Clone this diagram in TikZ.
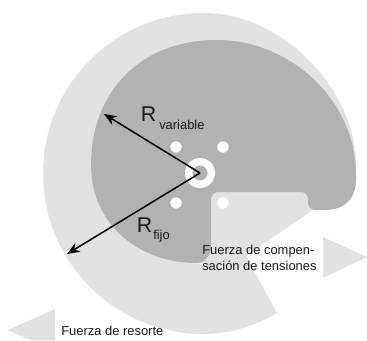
\documentclass[tikz,border=0pt]{standalone}
\usepackage{fontspec}
\setmainfont{Liberation Sans}
\usetikzlibrary{arrows.meta}
\definecolor{lightg}{HTML}{E1E2E3}
\definecolor{darkg}{HTML}{B1B2B3}
\tikzset{
  x=0.75pt,y=-0.75pt,
  lab/.style={inner sep=0pt,align=left,anchor=west,text=black!90,font=\fontsize{9.7}{12}\selectfont},
  big/.style={lab,font=\fontsize{16}{16}\selectfont},
  rad/.style={line width=1.15pt,-{Stealth[length=9.5pt,width=7.5pt]}},
  tri/.style={fill=lightg,draw=none},
  hole/.style={fill=white,draw=none}
}
\begin{document}
\begin{tikzpicture}
\useasboundingbox (0,0) rectangle (367,340);
% outer light disc with wedge cut
\fill[lightg] (277,313) .. controls (255,326) and (230,334) .. (203.5,334)
  arc[start angle=90,end angle=270,radius=160.5]
  .. controls (285,13) and (356,92) .. (356,165)
  -- (340,200) -- (313,210) -- (246,256) -- cycle;
% dark cam
\fill[darkg] (211,245) .. controls (211,256) and (205,263) .. (196,263)
  .. controls (140,263) and (91,225) .. (91,165)
  .. controls (91,92) and (140,40) .. (217,40)
  .. controls (290,40) and (356,100) .. (356,175)
  -- (356,180) .. controls (356,198) and (345,210) .. (325,210)
  -- (316,210) .. controls (311,210) and (308,207) .. (308,202)
  -- (308,199) .. controls (308,195) and (305,192) .. (301,192)
  -- (219,192) .. controls (214,192) and (211,195) .. (211,200) -- cycle;
% holes
\fill[hole] (200,173) circle (15);
\fill[darkg] (200,173) circle (7.5);
\fill[hole] (176,147) circle (5.7);
\fill[hole] (223,147) circle (5.7);
\fill[hole] (176,203) circle (5.7);
\fill[hole] (223,203) circle (5.7);
% arrows
\coordinate (c) at (200,173);
\coordinate (v) at (104,114);
\coordinate (f) at (67,254);
\draw[rad] (c) -- (v);
\draw[rad] (c) -- (f);
% triangles
\fill[tri] (323,237) -- (367,257) -- (323,278) -- cycle;
\fill[tri] (8,330) -- (55,309) -- (55,340) -- (30,340) -- cycle;
% labels
\node[big] (rv) at (140.5,114.5) {R};
\node[lab] (rvs) at (159,125) {variable};
\node[big] (rf) at (136.5,225.5) {R};
\node[lab] (rfs) at (153,236) {fijo};
\node[lab] (fc) at (202,258) {Fuerza de compen-\\sación de tensiones};
\node[lab] (fr) at (61,331) {Fuerza de resorte};
\end{tikzpicture}
\end{document}
